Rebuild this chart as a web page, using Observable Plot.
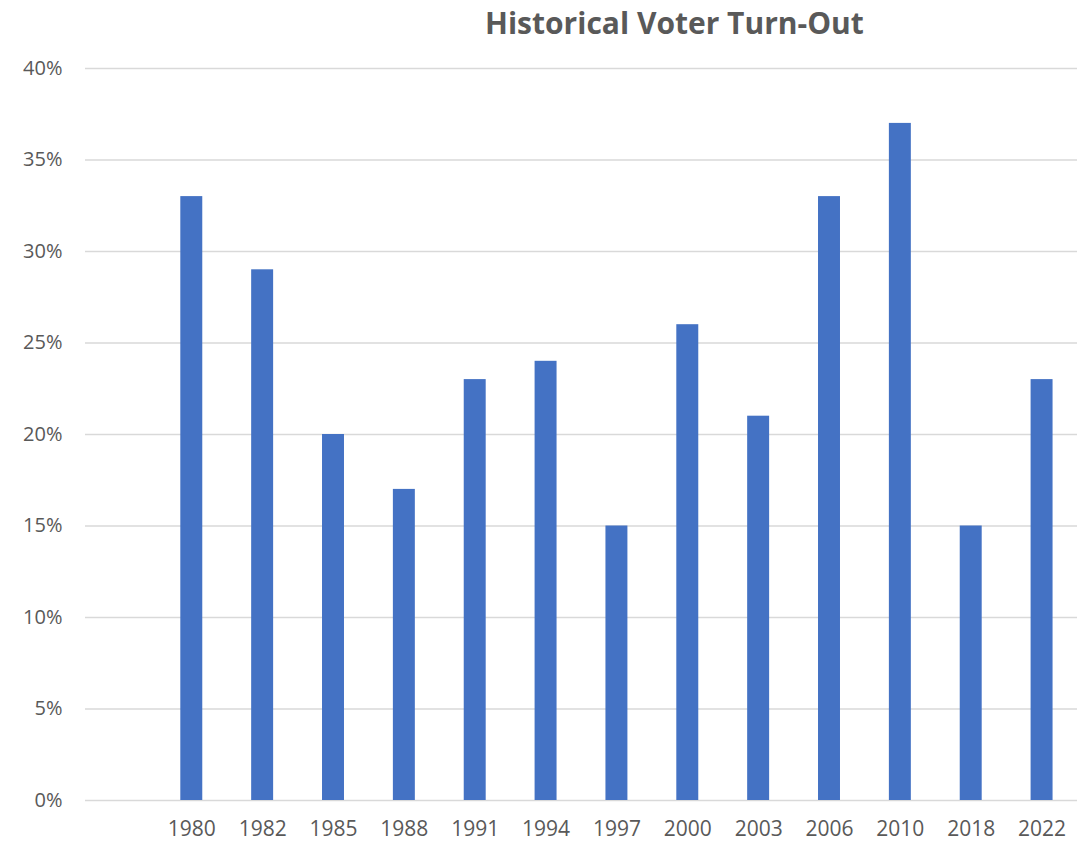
<!DOCTYPE html>
<html>
<head>
<meta charset="utf-8">
<script src="https://cdn.jsdelivr.net/npm/d3@7"></script>
<script src="https://cdn.jsdelivr.net/npm/@observablehq/plot@0.6"></script>
<style>
  html, body { margin: 0; padding: 0; background: #fff; }
  #wrap { position: relative; width: 1087px; height: 843px; }
  #title {
    position: absolute; left: 0; top: 2px; width: 1087px;
    text-align: left; padding-left: 485px; box-sizing: border-box;
    font-family: "Open Sans", sans-serif; font-weight: 700; font-size: 30px;
    color: #595959; white-space: nowrap; line-height: 42px;
  }
  #chart { position: absolute; left: 0; top: 0; }
</style>
</head>
<body>
<div id="wrap">
  <div id="chart"></div>
  <div id="title">Historical Voter Turn-Out</div>
</div>
<script>
const years = ["", "1980", "1982", "1985", "1988", "1991", "1994", "1997", "2000", "2003", "2006", "2010", "2018", "2022"];
const turnout = [null, 0.33, 0.29, 0.20, 0.17, 0.23, 0.24, 0.15, 0.26, 0.21, 0.33, 0.37, 0.15, 0.23];
const yTicks = [0, 0.05, 0.10, 0.15, 0.20, 0.25, 0.30, 0.35, 0.40];

const data = years.map((y, i) => ({year: y, value: turnout[i]})).filter(d => d.value != null);

const chart = Plot.plot({
  width: 1087,
  height: 843,
  marginLeft: 85,
  marginRight: 10,
  marginTop: 68,
  marginBottom: 43,
  style: {fontFamily: "'Open Sans', sans-serif", fontSize: "20px", color: "#595959", background: "#fff"},
  x: {domain: years, paddingInner: 0.69, paddingOuter: 0.345, round: false, label: null},
  y: {domain: [0, 0.4], ticks: yTicks, tickFormat: d3.format(".0%"), label: null},
  marks: [
    Plot.gridY(yTicks, {stroke: "#d9d9d9", strokeOpacity: 1, strokeWidth: 1.5}),
    Plot.barY(data, {x: "year", y: "value", fill: "#4472C4"}),
    Plot.axisX({tickSize: 0, tickPadding: 21, fill: "#595959", fontSize: 21, label: null}),
    Plot.axisY({ticks: yTicks, tickFormat: d3.format(".0%"), tickSize: 0, tickPadding: 23, fill: "#595959", fontSize: 20, label: null})
  ]
});
document.getElementById("chart").appendChild(chart);
</script>
</body>
</html>
